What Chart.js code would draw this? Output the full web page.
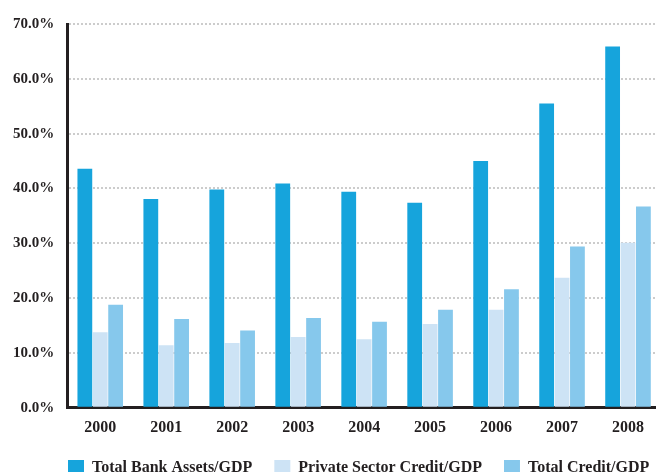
<!DOCTYPE html>
<html>
<head>
<meta charset="utf-8">
<script src="https://cdn.jsdelivr.net/npm/chart.js@4/dist/chart.umd.min.js"></script>
<style>
  html, body { margin: 0; padding: 0; background: #fff; overflow: hidden; }
  #wrap { position: relative; width: 664px; height: 487px; }
</style>
</head>
<body>
<div id="wrap"><canvas id="bankChart"></canvas></div>
<script>
// ─── Data ───
const years = ['2000', '2001', '2002', '2003', '2004', '2005', '2006', '2007', '2008'];
const bankAssets = [43.6, 38.1, 39.8, 40.9, 39.4, 37.4, 45.0, 55.5, 65.9];
const privateCredit = [13.8, 11.4, 11.8, 12.9, 12.5, 15.3, 17.9, 23.7, 30.1];
const totalCredit = [18.8, 16.2, 14.1, 16.4, 15.7, 17.9, 21.6, 29.4, 36.7];
const yTicks = [0, 10, 20, 30, 40, 50, 60, 70];

const textColor = '#231f20';
const serif = "'Liberation Serif', serif";

// nudge the legend to where the original sits
const legendShift = {
    id: 'legendShift',
    afterLayout(chart) {
        const lg = chart.legend;
        if (!lg) return;
        const dx = 46, dy = -1;
        lg.left += dx; lg.right += dx;
        lg.top += dy; lg.bottom += dy;
    }
};

const ctx = document.getElementById('bankChart');

new Chart(ctx, {
    type: 'bar',
    data: {
        labels: years,
        datasets: [
            { label: 'Total Bank Assets/GDP', data: bankAssets, backgroundColor: '#16a4dc' },
            { label: 'Private Sector Credit/GDP', data: privateCredit, backgroundColor: '#cde3f5' },
            { label: 'Total Credit/GDP', data: totalCredit, backgroundColor: '#86c8ec' }
        ]
    },
    options: {
        responsive: true,
        maintainAspectRatio: false,
        animation: false,
        categoryPercentage: 0.70,
        barPercentage: 0.96,
        layout: {
            padding: { top: 24, right: 3, left: 0, bottom: 0 }
        },
        plugins: {
            tooltip: { enabled: false },
            legend: {
                position: 'bottom',
                align: 'start',
                labels: {
                    color: textColor,
                    font: { family: serif, size: 16, weight: 'bold' },
                    boxWidth: 16,
                    boxHeight: 16,
                    padding: 22
                }
            }
        },
        scales: {
            x: {
                grid: { display: false },
                border: { color: textColor, width: 3 },
                ticks: {
                    color: textColor,
                    font: { family: serif, size: 16, weight: 'bold' },
                    padding: 2
                }
            },
            y: {
                min: 0,
                max: 70,
                afterBuildTicks: (axis) => {
                    axis.ticks = yTicks.map(v => ({ value: v }));
                },
                border: { color: textColor, width: 3, dash: [2, 2] },
                grid: {
                    color: (c) => c.tick && c.tick.value === 0 ? 'rgba(0,0,0,0)' : '#cccccc',
                    lineWidth: 2,
                    drawTicks: false
                },
                ticks: {
                    color: textColor,
                    font: { family: serif, size: 15, weight: 'bold' },
                    padding: 13,
                    callback: (v) => v.toFixed(1) + '%'
                }
            }
        }
    },
    plugins: [legendShift]
});
</script>
</body>
</html>
